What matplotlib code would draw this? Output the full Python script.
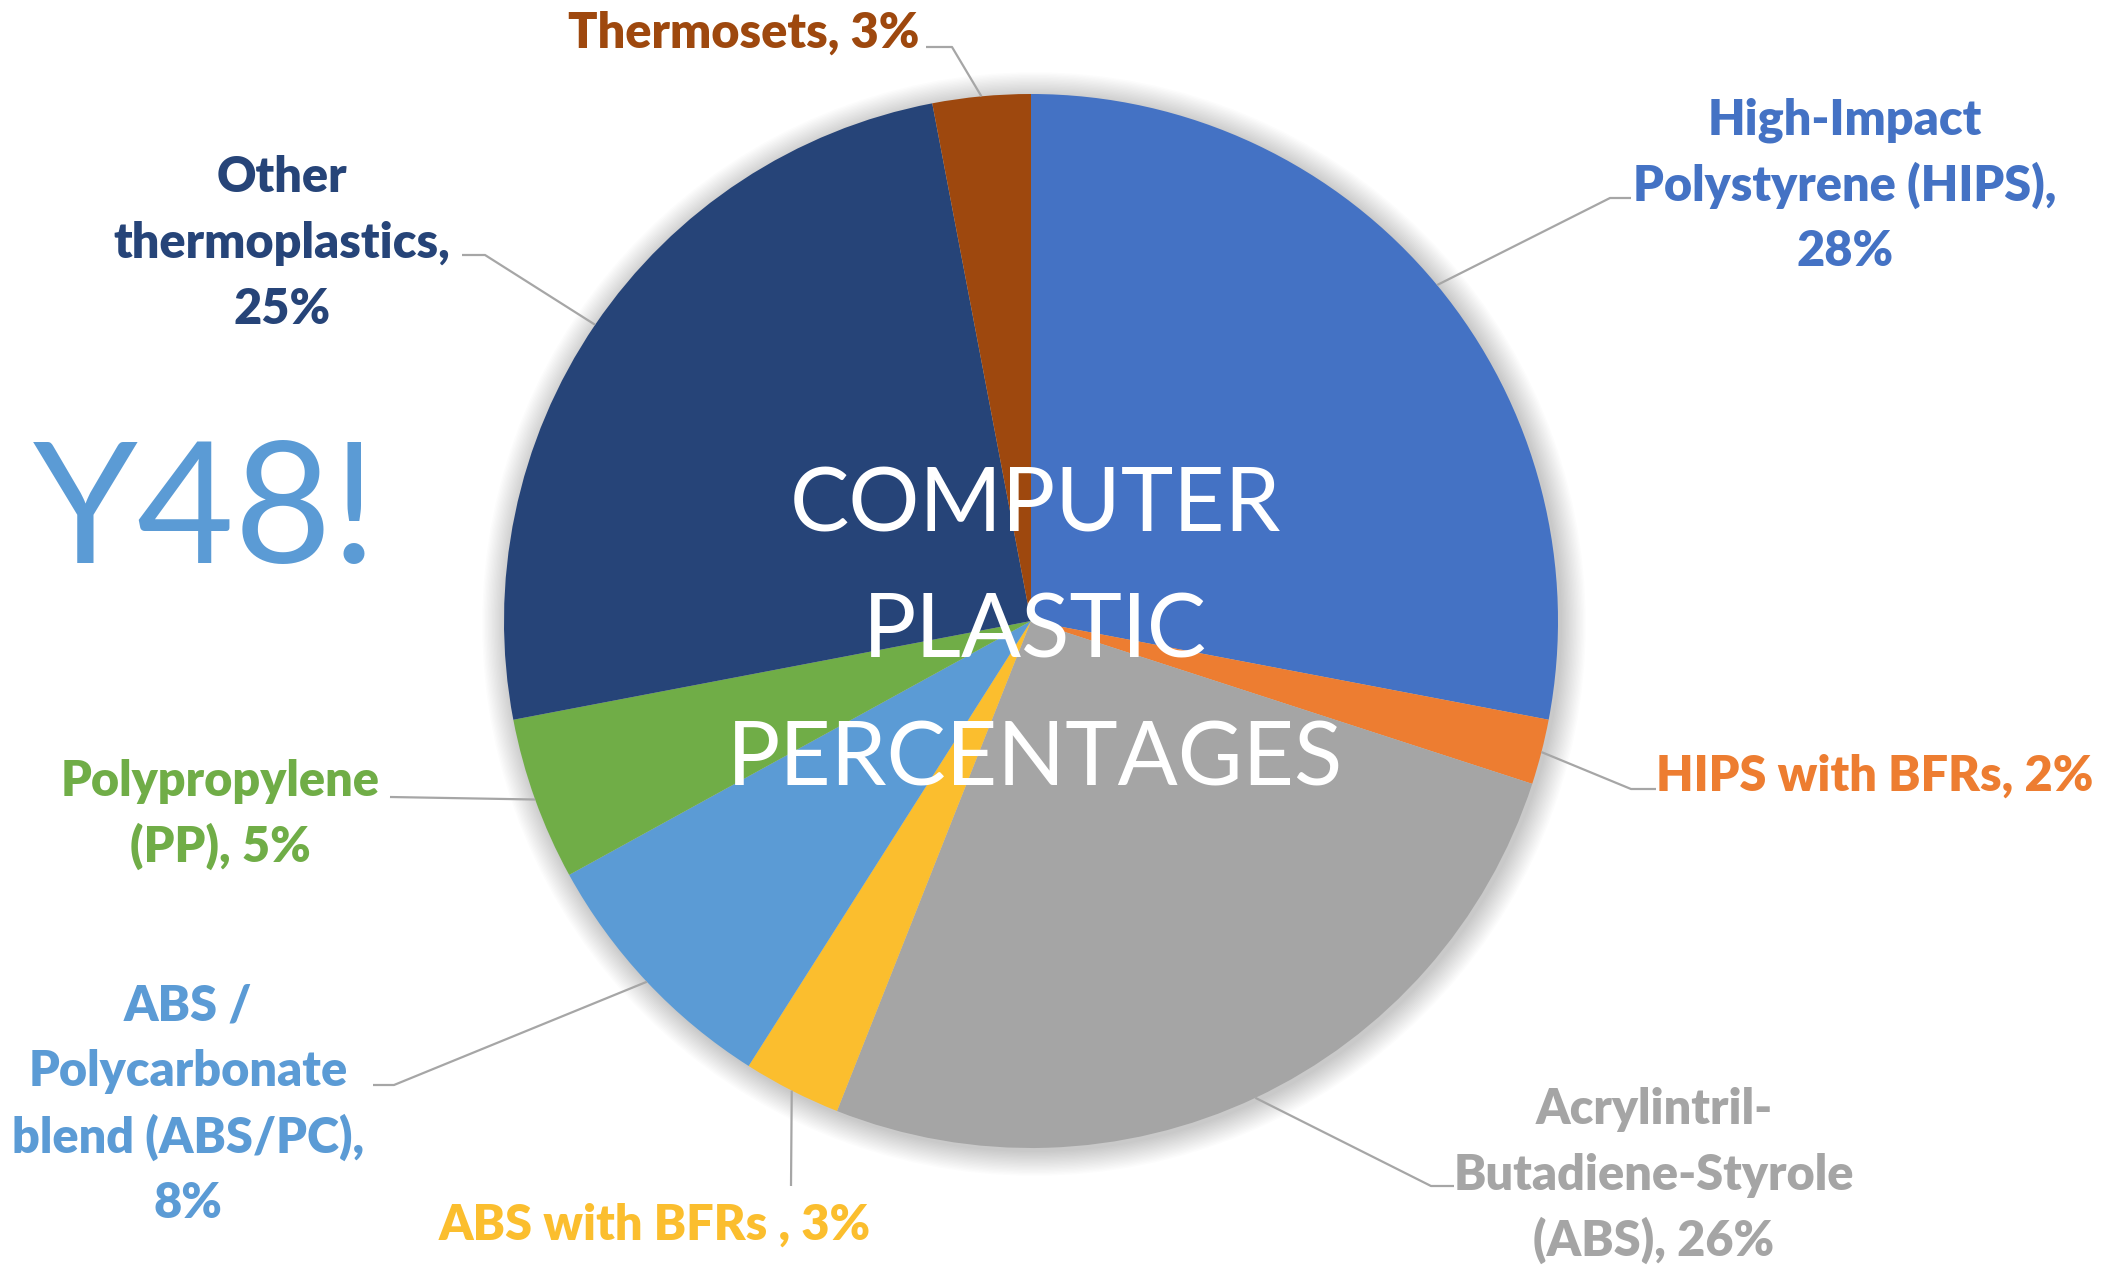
import matplotlib.pyplot as plt
import numpy as np
from matplotlib.patches import Circle

W, H = 2111, 1265

# slice data, clockwise from 12 o'clock
names = ["High-Impact\nPolystyrene (HIPS)", "HIPS with BFRs",
         "Acrylintril-\nButadiene-Styrole\n(ABS)", "ABS with BFRs",
         "ABS /\nPolycarbonate\nblend (ABS/PC)", "Polypropylene\n(PP)",
         "Other\nthermoplastics", "Thermosets"]
shares = [28, 2, 26, 3, 8, 5, 25, 3]
seps = [",\n", ", ", ", ", " , ", ",\n", ", ", ",\n", ", "]
colors = ["#4472C4", "#ED7D31", "#A5A5A5", "#FBBE2E",
          "#5B9BD5", "#70AD47", "#264478", "#9E480E"]

title_lines = ["COMPUTER", "PLASTIC", "PERCENTAGES"]
side_text = "Y48!"

# layout (pixels, y down)
cx, cy, R = 1031, 621, 527
label_xy = [(1845, 117), (1875, 773), (1654, 1106), (655, 1222),
            (188, 1003), (220, 778), (282, 175), (744, 30)]
elbows = [[(1631, 198), (1610, 198)],
          [(1656, 789), (1631, 789)],
          [(1454, 1186), (1431, 1186)],
          [(791, 1186)],
          [(373, 1085), (394, 1085)],
          [(390, 797)],
          [(462, 255), (485, 255)],
          [(926, 47), (952, 47)]]

fig = plt.figure(figsize=(W / 100, H / 100), dpi=100)
ax = fig.add_axes([0, 0, 1, 1])

# soft glow behind the pie
for k in range(18):
    ax.add_patch(Circle((cx + 3, cy + 3), R + 1 + k * 1.4, color="#000000",
                        alpha=0.012, lw=0, zorder=0))

# y axis is inverted, so startangle 270 + counterclock draws clockwise from top
ax.pie(shares, colors=colors, startangle=270, counterclock=True,
       center=(cx, cy), radius=R, frame=True,
       wedgeprops=dict(linewidth=0, zorder=1))

ax.set_xlim(0, W)
ax.set_ylim(H, 0)
ax.set_aspect("equal")
ax.axis("off")

fs = 35
cap = fs * 100 / 72 * 0.36
step = 66
total = sum(shares)
cum = 0
for i, v in enumerate(shares):
    mid = (cum + v / 2) / total * 2 * np.pi
    cum += v
    px = cx + R * np.sin(mid)
    py = cy - R * np.cos(mid)
    pts = elbows[i] + [(px, py)]
    ax.plot([p[0] for p in pts], [p[1] for p in pts], color="#A6A6A6",
            lw=1.6, zorder=2, solid_capstyle="butt")
    txt = names[i] + seps[i] + f"{v}%"
    x0, y0 = label_xy[i]
    for j, line in enumerate(txt.split("\n")):
        ax.text(x0, y0 + j * step + cap, line, ha="center", va="baseline",
                fontsize=fs, fontweight="heavy", family="Lato",
                color=colors[i], zorder=3)

for j, (line, base) in enumerate(zip(title_lines, [532, 658, 786])):
    ax.text(1035, base, line, ha="center", va="baseline", fontsize=64,
            family="Lato", color="white", zorder=4)

ax.text(33, 563, side_text, ha="left", va="baseline", fontsize=121,
        family="Lato", color="#5B9BD5", zorder=4)

fig.savefig("out.png", dpi=100)
